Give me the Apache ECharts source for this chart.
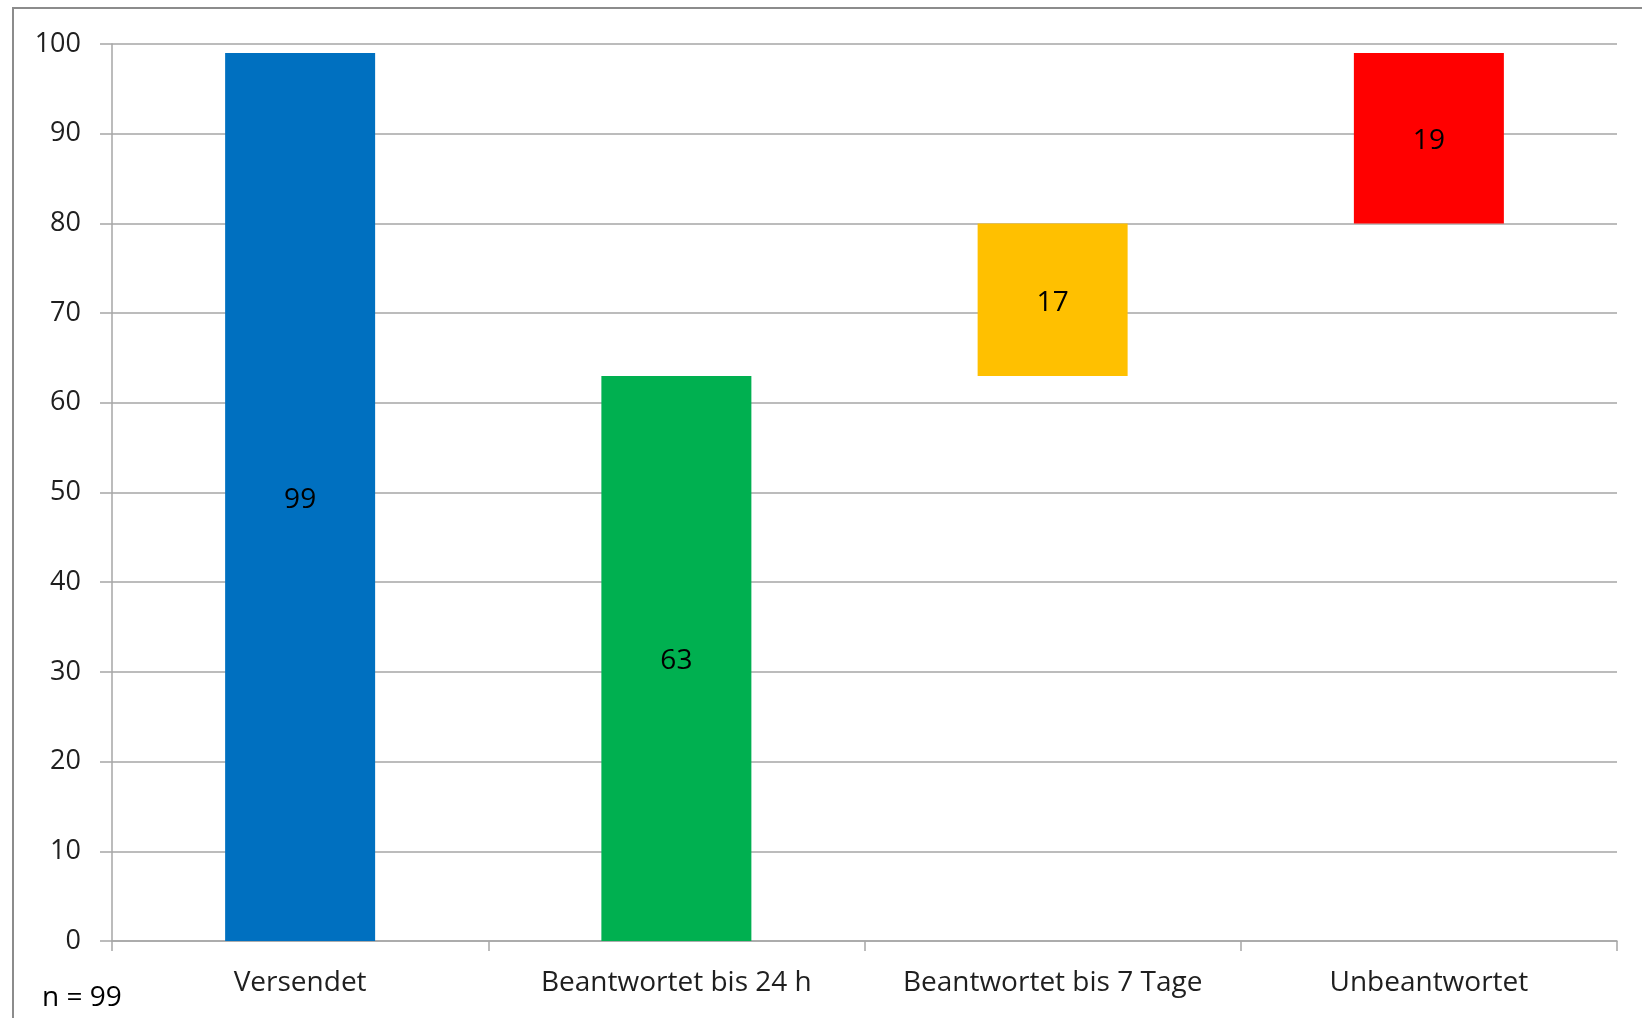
<!DOCTYPE html>
<html>
<head>
<meta charset="utf-8">
<script src="https://cdn.jsdelivr.net/npm/echarts@6/dist/echarts.min.js"></script>
<style>
  html, body { margin: 0; padding: 0; background: #fff; }
  #chart { width: 1642px; height: 1018px; }
</style>
</head>
<body>
<div id="chart"></div>
<script>
// categories and values
const categories = ["Versendet", "Beantwortet bis 24 h", "Beantwortet bis 7 Tage", "Unbeantwortet"];
const baseValues = [0, 0, 63, 80];   // invisible offset for the floating bars
const barValues = [99, 63, 17, 19];
const barColors = ["#0070C0", "#00B050", "#FFC000", "#FF0000"];
const yTicks = { min: 0, max: 100, interval: 10 };
const footnote = "n = 99";

const font = "'Open Sans', Lato, sans-serif";
const chart = echarts.init(document.getElementById("chart"));

const option = {
  animation: false,
  backgroundColor: "#fff",
  grid: { left: 112, right: 25, top: 44, bottom: 77 },
  graphic: [
    {
      type: "rect",
      shape: { x: 13, y: 8, width: 1700, height: 1100 },
      style: { fill: "none", stroke: "#8c8c8c", lineWidth: 2 },
      silent: true
    },
    {
      type: "text",
      left: 42,
      top: 984,
      style: { text: footnote, font: "28px " + font, fill: "#000" }
    }
  ],
  xAxis: {
    type: "category",
    data: categories,
    axisLine: { lineStyle: { color: "#a6a6a6", width: 1.5 } },
    axisTick: { show: true, interval: 0, length: 10, lineStyle: { color: "#a6a6a6", width: 1.5 } },
    axisLabel: { interval: 0, fontFamily: font, fontSize: 28, color: "#1f1f1f", margin: 28 }
  },
  yAxis: {
    type: "value",
    min: yTicks.min,
    max: yTicks.max,
    interval: yTicks.interval,
    axisLine: { show: true, lineStyle: { color: "#a6a6a6", width: 1.5 } },
    axisTick: { show: true, inside: false, length: 12, lineStyle: { color: "#a6a6a6", width: 1.5 } },
    splitLine: { lineStyle: { color: "#a6a6a6", width: 1.5 } },
    axisLabel: { fontFamily: font, fontSize: 27, color: "#1f1f1f", margin: 31 }
  },
  series: [
    {
      name: "base",
      type: "bar",
      stack: "w",
      barWidth: 150,
      itemStyle: { color: "transparent" },
      silent: true,
      data: baseValues
    },
    {
      name: "value",
      type: "bar",
      stack: "w",
      barWidth: 150,
      label: {
        show: true,
        position: "inside",
        offset: [0, 3],
        fontFamily: font,
        fontSize: 28,
        color: "#000"
      },
      data: barValues.map((v, i) => ({ value: v, itemStyle: { color: barColors[i] } }))
    }
  ]
};

chart.setOption(option);
</script>
</body>
</html>
